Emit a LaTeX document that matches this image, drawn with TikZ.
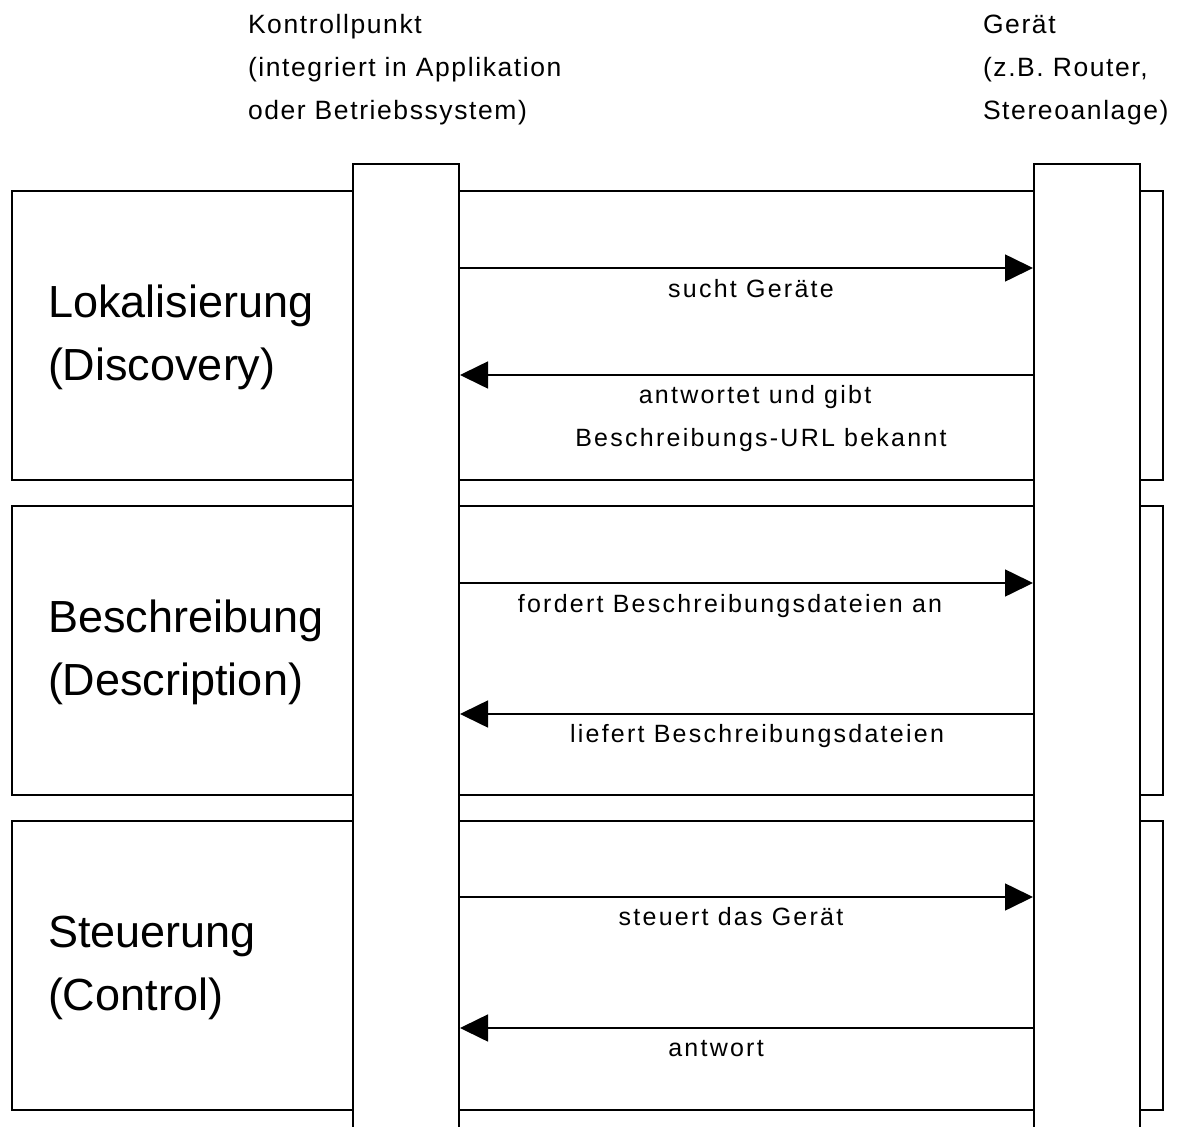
\documentclass[tikz,border=0pt]{standalone}
\usepackage{fontspec}
\setmainfont{Liberation Sans}
\newfontfamily\headfont[LetterSpace=6]{Liberation Sans}
\newfontfamily\msgfont[LetterSpace=9]{Liberation Sans}
\usetikzlibrary{arrows.meta}
\begin{document}
\begin{tikzpicture}[x=1pt,y=-1pt,
  line width=2pt,
  phase/.style={draw, rectangle, anchor=north west, inner sep=0pt,
                minimum width=1151pt, minimum height=289pt},
  lifeline/.style={draw, fill=white, rectangle, anchor=north, inner sep=0pt,
                   minimum width=106pt, minimum height=1000pt},
  msg/.style={-{Triangle[length=28pt,width=27pt]}, line width=1.6pt},
  head/.style={anchor=base west, inner sep=0pt, font=\headfont\fontsize{26.5pt}{30pt}\selectfont},
  phasename/.style={anchor=base west, inner sep=0pt, font=\fontsize{45pt}{54pt}\selectfont},
  msglabel/.style={anchor=base, inner sep=0pt, font=\msgfont\fontsize{25pt}{30pt}\selectfont}]
\useasboundingbox (0,0) rectangle (1184,1127);

% column headings
\node[head] (kp1) at (247,33)  {Kontrollpunkt};
\node[head] (kp2) at (247,76)  {(integriert in Applikation};
\node[head] (kp3) at (247,119) {oder Betriebssystem)};
\node[head] (ge1) at (982,33)  {Gerät};
\node[head] (ge2) at (982,76)  {(z.B. Router,};
\node[head] (ge3) at (982,119) {Stereoanlage)};

% the three phases
\node[phase] (disc) at (11,190) {};
\node[phase] (desc) at (11,505) {};
\node[phase] (ctrl) at (11,820) {};

% lifelines of control point and device
\node[lifeline] (kp)  at (406,163)  {};
\node[lifeline] (dev) at (1087,163) {};

% phase names
\node[phasename] (n1a) at (47,317)  {Lokalisierung};
\node[phasename] (n1b) at (47,380)  {(Discovery)};
\node[phasename] (n2a) at (47,632)  {Beschreibung};
\node[phasename] (n2b) at (47,695)  {(Description)};
\node[phasename] (n3a) at (47,947)  {Steuerung};
\node[phasename] (n3b) at (47,1010) {(Control)};

% messages
\draw[msg] (kp.east |- 0,268) -- (dev.west |- 0,268);
\draw[msg] (dev.west |- 0,375) -- (kp.east |- 0,375);
\draw[msg] (kp.east |- 0,583) -- (dev.west |- 0,583);
\draw[msg] (dev.west |- 0,714) -- (kp.east |- 0,714);
\draw[msg] (kp.east |- 0,897) -- (dev.west |- 0,897);
\draw[msg] (dev.west |- 0,1028) -- (kp.east |- 0,1028);

% message labels
\node[msglabel] (m1)  at (751,297)  {sucht Geräte};
\node[msglabel] (m2a) at (755,403)  {antwortet und gibt};
\node[msglabel] (m2b) at (761,446)  {Beschreibungs-URL bekannt};
\node[msglabel] (m3)  at (730,612)  {fordert Beschreibungsdateien an};
\node[msglabel] (m4)  at (757,742)  {liefert Beschreibungsdateien};
\node[msglabel] (m5)  at (731,925)  {steuert das Gerät};
\node[msglabel] (m6)  at (716,1056) {antwort};
\end{tikzpicture}
\end{document}
